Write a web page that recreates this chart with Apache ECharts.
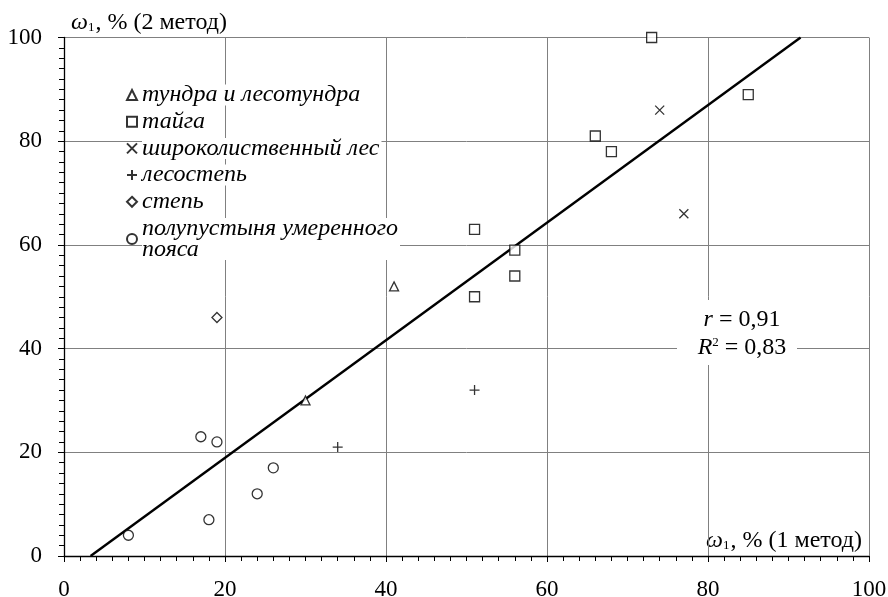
<!DOCTYPE html>
<html><head><meta charset="utf-8">
<script src="https://cdn.jsdelivr.net/npm/echarts@6/dist/echarts.min.js"></script>
<style>html,body{margin:0;padding:0;background:#fff}#c{width:888px;height:597px}</style>
</head><body><div id="c"></div>
<script>
const seriesNames = ['тундра и лесотундра','тайга','широколиственный лес','лесостепь','степь','полупустыня умеренного\nпояса'];
const tundra = [[30,30],[41,52]];
const taiga = [[73,100],[85,89],[66,81],[68,78],[51,63],[56,59],[56,54],[51,50]];
const broadleaf = [[74,86],[77,66]];
const forestSteppe = [[51,32],[34,21]];
const steppe = [[19,46]];
const semiDesert = [[8,4],[17,23],[19,22],[18,7],[24,12],[26,17]];
const trendLine = [[3.3,0],[91.5,100]];
const xTicks = [0,20,40,60,80,100];
const yTicks = [0,20,40,60,80,100];
const statR = '0,91';
const statR2 = '0,83';

const FONT = 'Liberation Serif';
const symbols = ['triangle','rect','path://M0,0L10,10M10,0L0,10','path://M5,0L5,10M0,5L10,5','diamond','circle'];
const sizes = [9,10,9,10,10,10];
const datas = [tundra,taiga,broadleaf,forestSteppe,steppe,semiDesert];

const chart = echarts.init(document.getElementById('c'));
const scatterSeries = datas.map((d,i)=>({
  type:'scatter', name:seriesNames[i], data:d, symbol:symbols[i], symbolSize:sizes[i],
  itemStyle:{color:'#fff', borderColor:'#000', borderWidth:1.3}, z:3
}));
const axisCommon = {
  type:'value', min:0, max:100, interval:20,
  axisLine:{show:true,lineStyle:{color:'#000',width:1.3}},
  axisTick:{show:true,length:6,lineStyle:{color:'#000'}},
  minorTick:{show:true,splitNumber:10,length:5,lineStyle:{color:'#000'}},
  splitLine:{show:true,lineStyle:{color:'#808080',width:1}}
};
chart.setOption({
  animation:false,
  backgroundColor:'#fff',
  grid:{left:64,right:19,top:37.5,bottom:41,containLabel:false,outerBoundsMode:'none'},
  legend:{
    orient:'vertical', left:121, top:78, itemGap:2.7, itemWidth:10, itemHeight:10,
    data:seriesNames,
    textStyle:{fontFamily:FONT, fontStyle:'italic', fontSize:24, color:'#000', lineHeight:21, backgroundColor:'#fff', padding:[0,2,0,0]}
  },
  xAxis:Object.assign({}, axisCommon, {
    axisLabel:{fontFamily:FONT,fontSize:23,color:'#000',margin:22,
      formatter:v=>xTicks.includes(v)?String(v):''}
  }),
  yAxis:Object.assign({}, axisCommon, {
    axisLabel:{fontFamily:FONT,fontSize:23,color:'#000',margin:22,
      formatter:v=>yTicks.includes(v)?String(v):''}
  }),
  series:[
    {type:'line', data:trendLine, symbol:'none', lineStyle:{color:'#000',width:2.4}, z:2, silent:true},
    ...scatterSeries
  ],
  graphic:[
    {type:'text', left:71, top:11, style:{
      text:'{w|ω}{s|1}, % (2 метод)', fontFamily:FONT, fontSize:24, fill:'#000',
      rich:{w:{fontFamily:FONT,fontStyle:'italic',fontSize:24},s:{fontFamily:FONT,fontSize:13,padding:[10,1,0,0]}}
    }},
    {type:'text', right:26, top:529, style:{
      text:'{w|ω}{s|1}, % (1 метод)', fontFamily:FONT, fontSize:24, fill:'#000', backgroundColor:'#fff',
      rich:{w:{fontFamily:FONT,fontStyle:'italic',fontSize:24},s:{fontFamily:FONT,fontSize:13,padding:[10,1,0,0]}}
    }},
    {type:'rect', shape:{x:677,y:300,width:120,height:65}, style:{fill:'#fff'}, z:10},
    {type:'text', x:742, y:320, z:11, style:{
      text:'{i|r} = '+statR, fontFamily:FONT, fontSize:24, fill:'#000', align:'center', verticalAlign:'middle',
      rich:{i:{fontFamily:FONT,fontStyle:'italic',fontSize:24}}
    }},
    {type:'text', x:742, y:348, z:11, style:{
      text:'{i|R}{s|2} = '+statR2, fontFamily:FONT, fontSize:24, fill:'#000', align:'center', verticalAlign:'middle',
      rich:{i:{fontFamily:FONT,fontStyle:'italic',fontSize:24},s:{fontFamily:FONT,fontSize:13,padding:[0,0,10,0]}}
    }}
  ]
});
</script></body></html>
